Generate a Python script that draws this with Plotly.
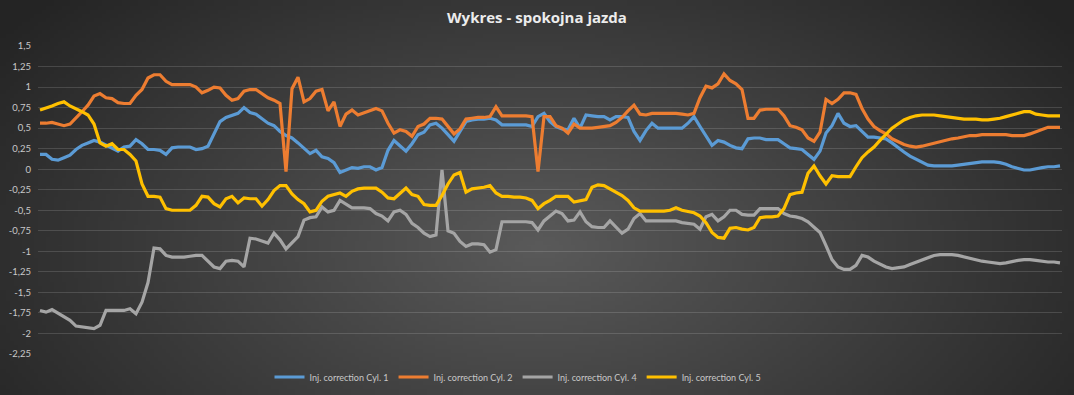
import base64, struct, zlib
import numpy as np
import plotly.graph_objects as go

series_names = ["Inj. correction Cyl. 1", "Inj. correction Cyl. 2",
                "Inj. correction Cyl. 4", "Inj. correction Cyl. 5"]
series_colors = ["#5B9BD5", "#ED7D31", "#A5A5A5", "#FFC000"]

cyl1 = [0.18, 0.18, 0.12, 0.11, 0.14, 0.17, 0.24, 0.29, 0.32, 0.35,
        0.33, 0.29, 0.26, 0.22, 0.27, 0.28, 0.36, 0.31, 0.24, 0.24,
        0.23, 0.18, 0.26, 0.27, 0.27, 0.27, 0.24, 0.25, 0.28, 0.44,
        0.58, 0.63, 0.65, 0.68, 0.75, 0.69, 0.67, 0.62, 0.56, 0.53,
        0.46, 0.41, 0.38, 0.32, 0.26, 0.19, 0.23, 0.15, 0.13, 0.08,
        -0.04, -0.01, 0.02, 0.01, 0.03, 0.03, -0.01, 0.02, 0.23, 0.35,
        0.29, 0.22, 0.31, 0.42, 0.45, 0.54, 0.56, 0.50, 0.42, 0.34,
        0.46, 0.58, 0.60, 0.61, 0.61, 0.62, 0.60, 0.54, 0.54, 0.54,
        0.54, 0.54, 0.52, 0.64, 0.68, 0.58, 0.52, 0.49, 0.48, 0.62,
        0.50, 0.66, 0.65, 0.64, 0.64, 0.60, 0.64, 0.64, 0.63, 0.46,
        0.35, 0.47, 0.56, 0.50, 0.50, 0.50, 0.50, 0.50, 0.56, 0.64,
        0.52, 0.40, 0.29, 0.35, 0.33, 0.29, 0.26, 0.25, 0.37, 0.38,
        0.38, 0.36, 0.36, 0.36, 0.31, 0.26, 0.25, 0.24, 0.18, 0.12,
        0.22, 0.44, 0.53, 0.68, 0.56, 0.52, 0.53, 0.46, 0.39, 0.39,
        0.38, 0.37, 0.32, 0.26, 0.21, 0.16, 0.12, 0.08, 0.05, 0.04,
        0.04, 0.04, 0.04, 0.05, 0.06, 0.07, 0.08, 0.09, 0.09, 0.09,
        0.08, 0.06, 0.03, 0.01, -0.01, -0.01, 0.01, 0.02, 0.03, 0.03,
        0.04]

cyl2 = [0.56, 0.56, 0.57, 0.55, 0.53, 0.55, 0.62, 0.70, 0.78, 0.89,
        0.92, 0.87, 0.86, 0.81, 0.80, 0.80, 0.90, 0.97, 1.11, 1.15,
        1.15, 1.07, 1.03, 1.03, 1.03, 1.03, 1.00, 0.93, 0.96, 1.00,
        0.99, 0.90, 0.84, 0.86, 0.95, 0.97, 0.97, 0.92, 0.87, 0.84,
        0.80, -0.03, 0.98, 1.12, 0.82, 0.86, 0.95, 0.97, 0.71, 0.82,
        0.52, 0.67, 0.72, 0.66, 0.69, 0.71, 0.74, 0.71, 0.56, 0.44,
        0.48, 0.46, 0.40, 0.52, 0.55, 0.62, 0.62, 0.61, 0.52, 0.43,
        0.49, 0.61, 0.62, 0.63, 0.63, 0.64, 0.76, 0.65, 0.65, 0.65,
        0.65, 0.65, 0.64, -0.03, 0.64, 0.64, 0.53, 0.50, 0.44, 0.55,
        0.50, 0.50, 0.50, 0.51, 0.52, 0.53, 0.57, 0.63, 0.71, 0.78,
        0.67, 0.66, 0.68, 0.68, 0.68, 0.68, 0.68, 0.67, 0.66, 0.68,
        0.87, 1.01, 0.99, 1.04, 1.16, 1.08, 1.04, 0.97, 0.62, 0.62,
        0.72, 0.73, 0.73, 0.73, 0.65, 0.53, 0.51, 0.48, 0.38, 0.34,
        0.45, 0.85, 0.80, 0.85, 0.93, 0.93, 0.91, 0.74, 0.61, 0.52,
        0.47, 0.43, 0.37, 0.33, 0.30, 0.28, 0.27, 0.28, 0.30, 0.32,
        0.33, 0.35, 0.37, 0.38, 0.40, 0.41, 0.41, 0.42, 0.42, 0.42,
        0.42, 0.42, 0.41, 0.41, 0.41, 0.43, 0.46, 0.49, 0.51, 0.51,
        0.51]

cyl4 = [-1.72, -1.74, -1.71, -1.75, -1.79, -1.84, -1.91, -1.92, -1.93, -1.94,
        -1.90, -1.72, -1.72, -1.72, -1.72, -1.70, -1.76, -1.62, -1.38, -0.96,
        -0.97, -1.05, -1.07, -1.07, -1.07, -1.06, -1.05, -1.05, -1.12, -1.19,
        -1.21, -1.12, -1.11, -1.12, -1.19, -0.84, -0.85, -0.87, -0.90, -0.78,
        -0.86, -0.97, -0.90, -0.82, -0.62, -0.59, -0.58, -0.46, -0.52, -0.50,
        -0.38, -0.43, -0.47, -0.47, -0.47, -0.48, -0.54, -0.57, -0.63, -0.52,
        -0.50, -0.55, -0.66, -0.71, -0.78, -0.82, -0.80, -0.01, -0.75, -0.78,
        -0.88, -0.94, -0.91, -0.91, -0.92, -1.01, -0.98, -0.64, -0.64, -0.64,
        -0.64, -0.64, -0.65, -0.74, -0.63, -0.57, -0.51, -0.54, -0.63, -0.62,
        -0.52, -0.64, -0.70, -0.71, -0.71, -0.63, -0.70, -0.78, -0.73, -0.60,
        -0.54, -0.63, -0.63, -0.63, -0.63, -0.63, -0.63, -0.65, -0.66, -0.67,
        -0.73, -0.58, -0.55, -0.63, -0.58, -0.50, -0.50, -0.55, -0.56, -0.56,
        -0.48, -0.48, -0.48, -0.48, -0.54, -0.57, -0.58, -0.60, -0.64, -0.70,
        -0.77, -0.93, -1.10, -1.19, -1.22, -1.22, -1.17, -1.05, -1.07, -1.12,
        -1.16, -1.19, -1.21, -1.20, -1.19, -1.16, -1.13, -1.10, -1.07, -1.05,
        -1.04, -1.04, -1.04, -1.05, -1.07, -1.08, -1.10, -1.12, -1.13, -1.14,
        -1.15, -1.14, -1.12, -1.11, -1.10, -1.10, -1.11, -1.12, -1.13, -1.13,
        -1.14]

cyl5 = [0.72, 0.74, 0.77, 0.80, 0.82, 0.77, 0.74, 0.70, 0.66, 0.55,
        0.32, 0.28, 0.31, 0.24, 0.24, 0.18, 0.10, -0.18, -0.33, -0.33,
        -0.34, -0.48, -0.50, -0.50, -0.50, -0.50, -0.44, -0.33, -0.34, -0.42,
        -0.46, -0.36, -0.33, -0.41, -0.35, -0.36, -0.36, -0.45, -0.37, -0.26,
        -0.20, -0.20, -0.30, -0.37, -0.42, -0.52, -0.50, -0.39, -0.33, -0.31,
        -0.29, -0.33, -0.27, -0.24, -0.23, -0.23, -0.23, -0.28, -0.35, -0.36,
        -0.29, -0.23, -0.31, -0.33, -0.43, -0.44, -0.44, -0.32, -0.18, -0.07,
        -0.04, -0.28, -0.24, -0.23, -0.22, -0.20, -0.29, -0.33, -0.33, -0.34,
        -0.34, -0.35, -0.38, -0.48, -0.42, -0.38, -0.33, -0.33, -0.33, -0.40,
        -0.38, -0.37, -0.22, -0.19, -0.20, -0.24, -0.29, -0.32, -0.38, -0.47,
        -0.51, -0.51, -0.51, -0.51, -0.51, -0.50, -0.47, -0.50, -0.52, -0.53,
        -0.57, -0.65, -0.77, -0.83, -0.84, -0.72, -0.71, -0.73, -0.74, -0.71,
        -0.59, -0.58, -0.58, -0.57, -0.48, -0.31, -0.29, -0.28, -0.05, 0.04,
        -0.08, -0.18, -0.08, -0.09, -0.09, -0.09, 0.03, 0.14, 0.21, 0.27,
        0.35, 0.43, 0.50, 0.55, 0.60, 0.63, 0.65, 0.66, 0.66, 0.66,
        0.65, 0.64, 0.63, 0.62, 0.61, 0.61, 0.61, 0.60, 0.60, 0.61,
        0.62, 0.64, 0.66, 0.68, 0.70, 0.70, 0.67, 0.66, 0.65, 0.65,
        0.65]

tick_vals = [1.5, 1.25, 1.0, 0.75, 0.5, 0.25, 0.0, -0.25, -0.5, -0.75,
             -1.0, -1.25, -1.5, -1.75, -2.0, -2.25]
tick_text = ["1,5", "1,25", "1", "0,75", "0,5", "0,25", "0", "-0,25", "-0,5",
             "-0,75", "-1", "-1,25", "-1,5", "-1,75", "-2", "-2,25"]

W, H = 1074, 395
ML, MR, MT, MB = 38, 12, 46, 41


def make_png(arr):
    h, w = arr.shape[:2]
    raw = b"".join(b"\x00" + arr[r].tobytes() for r in range(h))

    def chunk(tag, data):
        c = struct.pack(">I", len(data)) + tag + data
        return c + struct.pack(">I", zlib.crc32(tag + data) & 0xffffffff)
    png = b"\x89PNG\r\n\x1a\n"
    png += chunk(b"IHDR", struct.pack(">IIBBBBB", w, h, 8, 2, 0, 0, 0))
    png += chunk(b"IDAT", zlib.compress(raw, 9))
    png += chunk(b"IEND", b"")
    return png


gw, gh = 268, 99
yy, xx = np.mgrid[0:gh, 0:gw]
cx, cy = gw * 0.5, gh * 0.62
r = np.sqrt(((xx - cx) / (gw * 0.62)) ** 2 + ((yy - cy) / (gh * 0.95)) ** 2)
r = np.clip(r, 0, 1)
val = 0x5a + (0x24 - 0x5a) * r
img = np.clip(val, 0, 255).astype(np.uint8)
rgb = np.stack([img, img, img], axis=-1)
bg_uri = "data:image/png;base64," + base64.b64encode(make_png(rgb)).decode()

pw, ph = W - ML - MR, H - MT - MB

fig = go.Figure()
for name, color, vals in zip(series_names, series_colors, [cyl1, cyl2, cyl4, cyl5]):
    fig.add_trace(go.Scatter(x=list(range(len(vals))), y=vals, mode="lines",
                             name=name, line=dict(color=color, width=3.2)))

n = len(cyl1)
pad = 2 / ((W - ML - MR - 4) / (n - 1))
fig.update_layout(
    width=W, height=H,
    margin=dict(l=ML, r=MR, t=MT, b=MB, autoexpand=False),
    paper_bgcolor="#3a3a3a",
    plot_bgcolor="rgba(0,0,0,0)",
    images=[dict(source=bg_uri, xref="paper", yref="paper",
                 x=-ML / pw, y=1 + MT / ph, sizex=W / pw, sizey=H / ph,
                 xanchor="left", yanchor="top", sizing="stretch", layer="below")],
    title=dict(text="<b>Wykres - spokojna jazda</b>", x=0.5, xanchor="center",
               y=1 - 18 / H, yanchor="middle",
               font=dict(family="Open Sans, Lato, sans-serif", size=15, color="#ececec")),
    xaxis=dict(range=[-pad, n - 1 + pad], showgrid=False, zeroline=False,
               showticklabels=False, showline=False, ticks=""),
    yaxis=dict(range=[-2.25, 1.5], tickvals=tick_vals, ticktext=tick_text,
               showgrid=True, gridcolor="rgba(255,255,255,0.14)", gridwidth=1,
               zeroline=False, showline=False, ticks="", ticklabelstandoff=6,
               tickfont=dict(family="Lato, Open Sans, sans-serif", size=9.5, color="#c8c8c8")),
    legend=dict(orientation="h", x=(518 - ML) / pw, xanchor="center",
                yref="container", y=1 - 377 / H, yanchor="middle",
                font=dict(family="Lato, Open Sans, sans-serif", size=9, color="#c8c8c8"),
                bgcolor="rgba(0,0,0,0)", itemwidth=30, tracegroupgap=0),
    showlegend=True,
)

fig.write_html("out.html", config={"displayModeBar": False},
               post_script="document.body.style.margin='0';document.body.style.overflow='hidden';")
